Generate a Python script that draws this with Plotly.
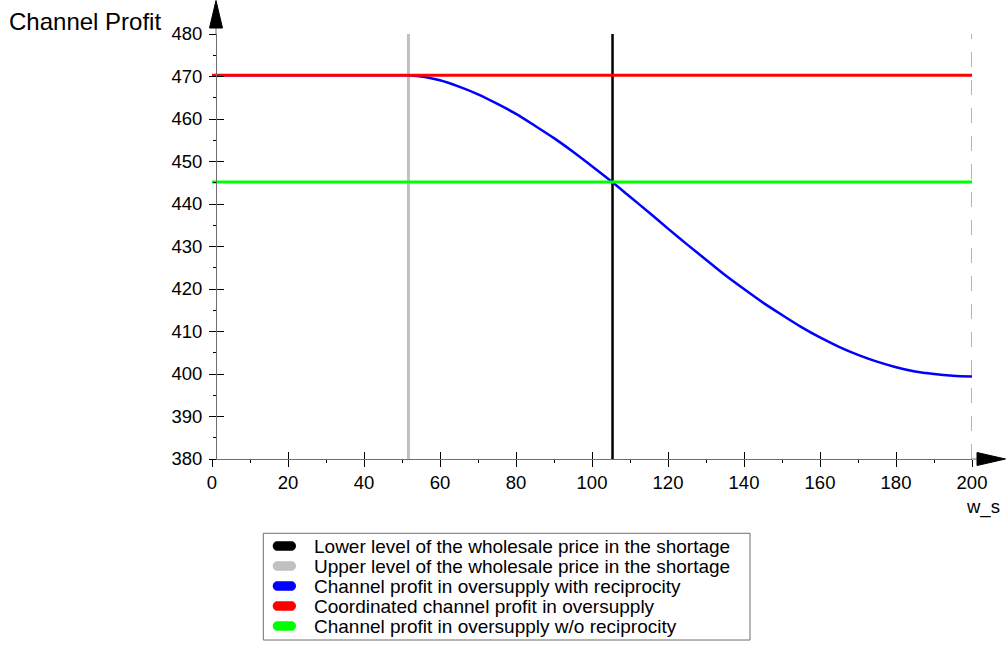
import plotly.graph_objects as go

# ---- values ----
ws_range = [0, 200]
profit_range = [380, 480]

upper_ws_shortage = 51.7      # upper level of the wholesale price in the shortage
lower_ws_shortage = 105.4     # lower level of the wholesale price in the shortage
coordinated_profit = 470.3    # coordinated channel profit in oversupply
no_recip_profit = 445.2       # channel profit in oversupply w/o reciprocity
ws_max = 200

recip_ws = [0, 48, 51.7, 56, 60, 65, 70, 75, 80, 85, 90, 95, 100, 105, 110, 115, 120,
            125, 130, 135, 140, 145, 150, 155, 160, 165, 170, 175, 180, 185, 190,
            195, 200]
recip_profit = [470.3, 470.3, 470.3, 469.9, 469.1, 467.6, 465.8, 463.6, 461.2, 458.4,
                455.5, 452.3, 448.9, 445.4, 441.7, 438.0, 434.2, 430.5, 426.9, 423.3,
                420.0, 416.8, 413.9, 411.1, 408.6, 406.4, 404.5, 402.9, 401.6, 400.6,
                400.0, 399.6, 399.4]

legend_labels = [
    "Lower level of the wholesale price in the shortage",
    "Upper level of the wholesale price in the shortage",
    "Channel profit in oversupply with reciprocity",
    "Coordinated channel profit in oversupply",
    "Channel profit in oversupply w/o reciprocity",
]
legend_colors = ["#000000", "#c0c0c0", "#0000ff", "#ff0000", "#00ff00"]

x_ticks = list(range(0, 201, 20))
y_ticks = list(range(380, 481, 10))

FONT = "Liberation Sans"
W, H = 1007, 645
ML, MR, MT, MB = 212, 35, 34, 186
PW, PH = W - ML - MR, H - MT - MB


def fx(px):
    return (px - ML) / PW


def fy(py):
    return (H - MB - py) / PH


fig = go.Figure()

# boundary of the wholesale price range
fig.add_trace(go.Scatter(x=[ws_max, ws_max], y=profit_range, mode="lines",
                         line=dict(color="#8a8a8a", width=1.3, dash="15px,13px"),
                         xaxis="x2", yaxis="y2", hoverinfo="skip"))
fig.add_trace(go.Scatter(x=[upper_ws_shortage] * 2, y=profit_range, mode="lines",
                         line=dict(color=legend_colors[1], width=3)))
fig.add_trace(go.Scatter(x=[lower_ws_shortage] * 2, y=profit_range, mode="lines",
                         line=dict(color=legend_colors[0], width=2.5)))
fig.add_trace(go.Scatter(x=recip_ws, y=recip_profit, mode="lines",
                         line=dict(color=legend_colors[2], width=2.5, shape="spline",
                                   smoothing=0.8)))
fig.add_trace(go.Scatter(x=ws_range, y=[coordinated_profit] * 2, mode="lines",
                         line=dict(color=legend_colors[3], width=3)))
fig.add_trace(go.Scatter(x=ws_range, y=[no_recip_profit] * 2, mode="lines",
                         line=dict(color=legend_colors[4], width=3)))

y_pos = 4 / PW
common_x = dict(range=ws_range, tickvals=x_ticks, showgrid=False, zeroline=False,
                ticklen=7, tickwidth=1, tickcolor="black",
                minor=dict(dtick=10, ticklen=3, tickcolor="black", tickwidth=1))
common_y = dict(range=profit_range, tickvals=y_ticks, showgrid=False, zeroline=False,
                ticklen=7, tickwidth=1, tickcolor="black",
                minor=dict(dtick=5, ticklen=3, tickcolor="black", tickwidth=1))

shapes = []
# axis arrows
shapes.append(dict(type="line", xref="paper", yref="paper",
                   x0=fx(ML + 4), x1=fx(ML + 4), y0=fy(MT), y1=fy(27),
                   line=dict(color="#6e6e6e", width=1)))
shapes.append(dict(type="path", xref="paper", yref="paper",
                   path=f"M {fx(209.5)},{fy(28)} L {fx(216)},{fy(0.5)} L {fx(222.5)},{fy(28)} Z",
                   fillcolor="black", line=dict(color="black", width=1)))
shapes.append(dict(type="line", xref="paper", yref="paper",
                   x0=1, x1=fx(978), y0=0, y1=0,
                   line=dict(color="#6e6e6e", width=1)))
shapes.append(dict(type="path", xref="paper", yref="paper",
                   path=f"M {fx(977)},{fy(452.5)} L {fx(1005.5)},{fy(459)} L {fx(977)},{fy(465.5)} Z",
                   fillcolor="black", line=dict(color="black", width=1)))

# legend box
shapes.append(dict(type="rect", xref="paper", yref="paper",
                   x0=fx(263.3), x1=fx(750), y0=fy(640), y1=fy(533.3),
                   line=dict(color="#6e6e6e", width=1), fillcolor="rgba(0,0,0,0)"))

annotations = [
    dict(text="Channel Profit", xref="paper", yref="paper", x=fx(7), y=fy(21),
         xanchor="left", yanchor="middle", showarrow=False,
         font=dict(family=FONT, size=24, color="black")),
    dict(text="w_s", xref="paper", yref="paper", x=fx(983), y=fy(507),
         xanchor="center", yanchor="middle", showarrow=False,
         font=dict(family=FONT, size=18.5, color="black")),
]

k = 0.5523
r = 4.75
row_y0, row_step = 546, 20
for i, (label, color) in enumerate(zip(legend_labels, legend_colors)):
    cy = row_y0 + i * row_step
    a, b = 272.7 + r, 296 - r
    pts = [
        ("M", [(a, cy - r)]),
        ("L", [(b, cy - r)]),
        ("C", [(b + k * r, cy - r), (b + r, cy - k * r), (b + r, cy)]),
        ("C", [(b + r, cy + k * r), (b + k * r, cy + r), (b, cy + r)]),
        ("L", [(a, cy + r)]),
        ("C", [(a - k * r, cy + r), (a - r, cy + k * r), (a - r, cy)]),
        ("C", [(a - r, cy - k * r), (a - k * r, cy - r), (a, cy - r)]),
    ]
    path = " ".join(cmd + " " + " ".join(f"{fx(px)},{fy(py)}" for px, py in p)
                    for cmd, p in pts) + " Z"
    shapes.append(dict(type="path", xref="paper", yref="paper", path=path,
                       fillcolor=color, line=dict(color=color, width=0)))
    annotations.append(dict(text=label, xref="paper", yref="paper", x=fx(311.5),
                            y=fy(cy), xanchor="left", yanchor="middle", showarrow=False,
                            font=dict(family=FONT, size=19, color="black")))

fig.update_layout(
    width=W, height=H,
    margin=dict(l=ML, r=MR, t=MT, b=MB, pad=0),
    paper_bgcolor="white", plot_bgcolor="white",
    showlegend=False,
    font=dict(family=FONT, size=18.5, color="black"),
    xaxis=dict(**common_x, ticks="outside", showline=True, linecolor="#6e6e6e",
               linewidth=1, anchor="y", tickfont=dict(family=FONT, size=18.5)),
    xaxis2=dict(**common_x, ticks="inside", showline=False, showticklabels=False,
                overlaying="x", anchor="y2"),
    yaxis=dict(**common_y, ticks="outside", showline=True, linecolor="#6e6e6e",
               linewidth=1, anchor="free", position=y_pos, ticklabelstandoff=3,
               tickfont=dict(family=FONT, size=18.5)),
    yaxis2=dict(**common_y, ticks="inside", showline=False, showticklabels=False,
                overlaying="y", anchor="free", position=y_pos),
    shapes=shapes,
    annotations=annotations,
)

fig.write_html("out.html")
